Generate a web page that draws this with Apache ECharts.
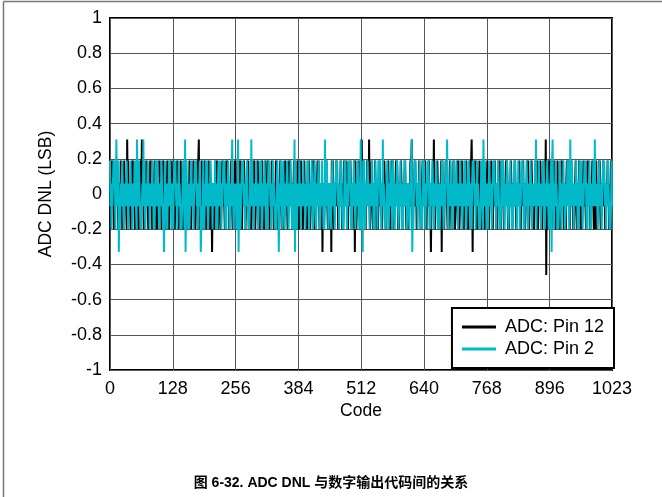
<!DOCTYPE html>
<html>
<head>
<meta charset="utf-8">
<script src="https://cdn.jsdelivr.net/npm/echarts@6/dist/echarts.min.js"></script>
<style>html,body{margin:0;padding:0;background:#fff}#c{width:662px;height:497px}</style>
</head>
<body>
<div id="c"></div>
<script>
const xTicks = [0,128,256,384,512,640,768,896,1023];
const yTicks = [-1,-0.8,-0.6,-0.4,-0.2,0,0.2,0.4,0.6,0.8,1];
const seriesNames = ['ADC: Pin 12','ADC: Pin 2'];
const titleText = '图 6-32. ADC DNL 与数字输出代码间的关系';

// ADC: Pin 12 DNL (LSB), codes 0..1023, 32 codes per row
const pin12 = [
-.2,-.07,.06,-.07,.19,-.07,.19,-.07,-.2,-.07,.06,-.07,.06,.19,.06,-.07,.06,-.2,.06,-.07,.06,-.07,.19,-.07,.06,-.2,.06,-.2,.06,.19,.06,-.07,
.06,-.07,-.2,.31,.06,.19,.06,-.07,.06,-.07,-.2,-.07,.06,.19,.06,.19,.06,-.07,.06,-.2,.06,-.07,.06,.19,.06,-.07,-.2,-.07,-.2,-.07,.19,-.07,
.06,.31,.19,-.07,.06,-.2,.06,-.07,.06,-.07,.19,-.07,.06,-.07,-.2,-.07,.06,-.07,.19,-.07,.19,-.07,-.2,-.07,.06,-.07,.06,.19,.06,-.07,-.2,-.07,
.06,-.2,.06,.19,.06,.19,.06,-.07,.06,-.2,.06,-.07,.19,-.07,.06,-.07,-.2,-.07,-.2,-.07,.06,.19,.06,-.07,-.2,-.07,.06,-.07,.19,-.07,.06,-.2,
.06,.19,.06,-.07,-.2,-.07,.06,-.07,.06,.19,.06,-.07,-.2,-.07,.06,-.07,.19,-.07,.06,-.2,.06,-.2,.06,-.07,.19,-.07,.19,-.07,.06,-.2,.06,-.07,
.06,-.07,.19,-.07,.06,-.2,.06,-.07,.06,-.07,.19,-.07,.06,-.07,-.2,-.07,.06,-.07,.19,-.07,.19,.31,-.2,-.07,.06,-.07,.06,.19,.06,-.07,-.2,-.07,
.06,.19,.06,-.07,-.2,-.07,.06,-.07,.06,.19,.06,-.07,-.2,-.07,.06,-.07,-.33,-.07,.06,-.2,.06,-.2,.06,-.07,.19,-.07,.19,-.07,.06,-.2,.06,-.07,
.06,-.07,-.2,-.07,.06,.19,.06,-.07,.06,-.07,-.2,-.07,.06,.19,.06,.19,.06,-.07,.06,-.2,.06,-.07,.06,.19,.06,-.07,-.2,-.07,-.2,-.07,.19,-.07,
.19,-.07,.06,-.2,.06,-.07,.06,.19,.06,.19,.06,-.2,.06,-.2,.06,-.07,.06,.19,.06,-.07,-.2,-.07,.06,-.07,.06,.19,.06,-.07,-.2,-.07,.06,-.07,
-.2,-.07,.06,-.07,.19,-.07,.19,-.07,-.2,-.07,.06,-.07,.06,.19,.06,-.07,.06,-.2,.06,-.07,.06,-.07,.19,-.07,.06,-.2,.06,-.2,.06,.19,.06,-.07,
.06,-.07,.19,-.07,.06,-.2,.06,-.07,.06,-.07,.19,-.07,.06,-.07,-.2,-.07,.06,-.07,.19,-.07,.19,-.07,-.2,-.07,.06,-.07,.06,.19,.06,-.07,-.2,-.07,
.06,-.07,-.2,-.07,.06,.19,.06,-.07,.06,-.07,-.2,-.07,.06,.19,.06,.19,.06,-.07,.06,-.2,.06,-.07,.06,.19,.06,-.07,-.2,-.07,-.2,-.07,.19,-.07,
.06,-.2,.06,.19,.06,.19,.06,-.07,.06,-.2,.06,-.07,.19,-.07,.06,-.07,-.2,-.07,-.2,-.07,.06,.19,.06,-.07,-.2,-.07,.06,-.07,.19,-.07,.06,-.2,
.19,-.07,.06,-.2,.06,-.07,.06,.19,.06,.19,.06,-.2,.06,-.2,.06,-.07,.06,-.33,.06,-.07,-.2,-.07,.06,-.07,.06,.19,.06,-.07,-.2,-.07,.06,-.07,
-.2,-.07,.06,-.33,.19,-.07,.19,-.07,-.2,-.07,.06,-.07,.06,.19,.06,-.07,.06,-.2,.06,-.07,.06,-.07,.19,-.07,.06,-.2,.06,-.2,.06,.19,.06,-.07,
.06,-.07,.19,-.07,.06,-.2,.06,-.07,.06,-.07,.19,-.07,.06,-.07,-.2,-.07,.06,-.07,.19,-.33,.19,-.07,-.2,-.07,.06,-.07,.06,.19,.06,-.07,-.2,-.07,
.06,.31,.06,.19,.06,.19,.06,-.07,.06,-.2,.06,-.07,.19,-.07,.06,-.07,.31,-.07,-.2,-.07,.06,.19,.06,-.07,-.2,-.07,.06,-.07,.19,-.07,.06,-.2,
.06,-.07,-.2,-.07,.06,.19,.06,-.07,.06,-.07,-.2,-.07,.06,.19,.06,.19,.06,-.07,.06,-.2,.06,-.07,.06,.19,.06,-.07,-.2,-.07,-.2,-.07,.19,-.07,
.19,-.07,.06,-.2,.06,-.07,.06,.19,.06,.19,.06,-.2,.06,-.2,.06,-.07,.06,.19,.06,-.07,-.2,-.07,.06,-.07,.06,.19,.06,-.07,-.2,-.07,.06,-.07,
-.2,-.07,.06,-.07,.19,-.07,.19,.31,-.2,-.07,.06,-.07,.06,.19,.06,-.07,.06,-.2,.06,-.07,.06,-.07,.19,-.07,.06,-.2,.06,-.2,.06,.19,.06,-.07,
.06,-.07,.19,-.07,.06,-.2,.06,-.07,.06,-.07,.19,-.07,.06,-.07,-.33,-.07,.06,-.07,.19,-.07,.31,-.07,-.2,-.07,.06,-.07,.06,.19,.06,-.07,-.2,-.07,
.06,-.2,.06,.19,-.33,.19,.06,-.07,.06,-.2,.06,-.07,.19,-.07,.06,-.07,-.2,-.07,-.2,-.07,.06,.19,.06,-.07,-.2,-.07,.06,-.07,.19,-.07,.06,-.2,
-.2,-.07,.06,-.07,.19,-.07,.19,-.07,-.2,-.07,.06,-.07,.06,.19,.06,-.07,.06,-.2,.06,-.07,.06,-.07,.19,-.07,.06,-.2,.06,-.2,.06,.19,.06,-.07,
.19,.31,.06,-.33,.06,-.07,.06,.19,.06,.19,.06,-.2,.06,-.2,.06,-.07,.06,.19,.06,-.07,-.2,-.07,.06,-.07,.06,.19,.06,-.07,-.2,-.07,.06,-.07,
.06,.19,.06,-.07,-.2,-.07,.06,-.07,.06,.19,.06,-.07,-.2,-.07,.06,-.07,.19,-.07,.06,-.2,.06,-.2,.06,-.07,.19,-.07,.19,-.07,.06,-.2,.06,-.07,
.19,-.07,.06,-.2,.06,-.07,.06,.19,.06,.19,.06,-.2,.06,-.2,.06,-.07,.06,.19,.06,-.07,-.2,-.07,.06,-.07,.06,.19,.06,-.07,-.2,-.07,.06,-.07,
.06,-.07,.19,-.07,.06,-.2,.06,-.07,.06,-.07,.19,-.07,.06,-.07,-.2,-.07,.06,-.07,.19,-.07,.19,-.07,-.2,-.07,.06,-.07,.06,.19,.06,-.07,-.2,-.07,
-.2,-.07,.06,-.07,.19,-.07,.19,-.07,-.2,-.07,.06,-.07,.06,.19,.06,-.07,.06,-.2,.06,-.07,.06,-.07,.19,-.07,.31,-.46,.06,-.2,.06,.19,.06,-.07,
.06,.19,.06,-.07,-.2,-.07,.06,-.07,.06,.19,.06,-.07,-.2,-.07,.06,-.07,.19,-.07,.06,-.2,.06,-.2,.06,-.07,.19,-.07,.19,-.07,.06,-.2,.06,-.07,
.06,-.2,.06,.19,.06,.19,.06,-.07,.06,-.2,.06,-.07,.19,-.07,.06,-.07,-.2,-.07,-.2,-.07,.06,.19,.06,-.07,-.2,-.07,.06,-.07,.19,-.07,.06,-.2,
.06,-.07,-.2,-.07,.06,.19,.06,-.07,.06,-.07,-.2,-.07,.06,.19,.06,.19,.06,-.07,.06,-.2,.06,-.07,.06,.19,.06,-.07,-.2,-.07,-.2,-.07,.19,-.07,
-.2,-.07,.06,-.07,.19,-.07,.19,-.07,-.2,-.07,.06,-.07,.06,.19,.06,-.07,.06,-.2,.06,-.07,.06,-.07,.19,-.07,.06,-.2,.06,-.2,.06,.19,.06,-.07
];

// ADC: Pin 2 DNL (LSB), codes 0..1023, 32 codes per row
const pin2 = [
.19,-.07,.06,-.2,.06,-.07,.06,.19,.06,.19,.06,-.2,.06,.31,.06,-.07,.06,.19,-.33,-.07,-.2,-.07,.06,-.07,.06,.19,.06,-.07,-.2,-.07,.06,-.07,
.06,-.07,.19,-.07,.06,-.2,.06,-.07,.06,-.07,.19,-.07,.06,-.07,-.2,-.07,.06,-.07,.19,-.07,.19,-.07,-.2,.31,.06,-.07,.06,.19,.06,-.07,-.2,-.07,
-.2,-.07,.06,-.07,.31,-.07,.19,-.07,-.2,-.07,.06,-.07,.06,.19,.06,-.07,.06,-.2,.06,-.07,.06,-.07,.19,-.07,.06,-.2,.06,-.2,.06,.19,.06,-.07,
.06,.19,.06,-.07,-.2,-.07,.06,-.07,.06,.19,.06,-.07,-.2,-.07,-.33,-.07,.19,-.07,.06,-.2,.06,-.2,.06,-.07,.19,-.07,.19,-.07,.06,-.2,.06,-.07,
.06,-.2,.06,.19,.06,.19,.06,-.07,.06,-.2,.06,-.07,.19,-.07,.06,-.07,-.2,-.07,-.2,-.07,.06,.19,.06,-.07,-.2,.31,-.33,-.07,.19,-.07,.06,-.2,
.06,-.07,-.2,-.07,.06,.19,.06,-.07,.06,-.07,-.2,-.07,.06,.19,.06,.19,.06,-.07,.06,-.2,.06,-.07,.06,.19,.06,-.33,-.2,-.07,-.2,-.07,.19,-.07,
-.2,-.07,.06,-.07,.19,-.07,.19,-.07,-.2,-.07,.06,-.07,.06,.19,.06,-.07,.06,-.2,.06,-.07,.06,-.07,.19,-.07,.06,-.2,.06,-.2,.06,.19,.06,-.07,
.19,-.07,.06,-.2,.06,-.07,.06,.19,.06,.19,.06,-.2,.06,-.2,.06,-.07,.06,.19,.06,-.07,-.2,-.07,.06,-.07,.06,.31,.06,-.07,-.2,-.07,.06,-.07,
.06,-.07,-.2,-.07,.06,.31,-.33,-.07,.06,-.07,-.2,-.07,.06,.19,.06,.19,.06,-.07,.06,-.2,.06,-.07,.06,.19,.06,-.07,-.2,-.07,-.2,-.07,.19,-.07,
.31,-.07,.19,-.07,.06,-.2,.06,-.07,.06,-.07,.19,-.07,.06,-.07,-.2,-.07,.06,-.07,.19,-.07,.19,-.07,-.2,-.07,.06,-.07,.06,.19,.06,-.07,-.2,-.07,
.06,-.2,.06,.19,.06,.19,.06,-.07,.06,-.2,.06,-.07,.19,-.07,.06,-.07,-.2,-.07,-.2,-.07,.06,.19,.06,-.07,-.33,-.07,.06,-.07,.19,-.07,.06,-.2,
.06,.19,.06,-.07,-.2,-.07,.06,-.07,.06,.19,.06,-.07,-.2,-.07,.06,-.07,.19,-.07,.06,-.2,.06,-.2,.06,-.07,.31,-.33,.19,-.07,.06,-.2,.06,-.07,
.06,-.07,.19,-.07,.06,-.2,.06,-.07,.06,-.07,.19,-.07,.06,-.07,-.2,-.07,.06,-.07,.19,-.07,.19,-.07,-.2,-.07,.06,-.07,.06,.19,.06,-.07,-.2,-.07,
.06,.19,.06,-.07,-.2,-.07,.06,-.07,.06,.19,.06,-.07,-.2,-.07,.06,-.07,.19,-.07,.06,-.2,.06,-.2,.31,-.07,.19,-.07,.19,-.07,.06,-.2,.06,-.07,
.06,-.07,-.2,-.07,.06,.19,.06,-.07,.06,-.07,-.2,-.07,.06,.19,.06,.19,.06,-.07,.06,-.2,.06,-.07,.06,.19,.06,-.07,-.2,-.07,-.2,-.07,.19,-.07,
.19,-.07,.06,-.2,.06,-.07,.06,.19,.06,.19,.06,-.2,.06,-.2,.06,-.07,.06,.19,.06,-.07,-.2,-.07,.06,-.07,.06,.19,.06,-.07,-.2,-.07,.06,.31,
-.2,-.07,.06,-.33,.19,-.07,.19,-.07,-.2,-.07,.06,-.07,.06,.19,.06,-.07,.06,-.2,.06,-.07,.06,-.07,.19,-.07,.06,-.2,.06,-.2,.06,.19,.06,-.07,
.06,-.2,.06,.19,.06,.19,.06,-.07,.06,-.2,.06,-.07,.31,-.07,.06,-.07,-.2,-.07,-.2,-.07,.06,.19,.06,-.07,-.2,-.07,.06,-.07,.19,-.07,.06,-.2,
.06,.19,.06,-.07,-.2,-.07,.06,-.07,.06,.19,.06,-.07,-.2,-.07,.06,-.07,.19,-.07,.06,-.2,.06,-.2,.06,-.07,.19,-.07,.19,-.07,.06,-.2,.06,-.07,
.06,-.07,-.2,-.07,.06,.19,.06,.31,-.33,-.07,-.2,-.07,.06,.19,.06,.19,.06,-.07,.06,-.2,.06,-.07,.06,.19,.06,-.07,-.2,-.07,-.2,-.07,.19,-.07,
.19,-.07,.06,-.2,.06,-.07,.06,.19,.06,.19,.06,-.2,.06,-.2,.06,-.07,.06,.19,.06,-.07,-.2,-.07,.06,-.07,.06,.19,.06,-.07,-.2,-.07,.06,-.07,
-.2,-.07,.06,-.07,.19,-.07,.19,-.07,-.2,-.07,.06,-.07,.06,.19,.06,.31,.06,-.2,.06,-.07,.06,-.07,.19,-.07,.06,-.2,.06,-.2,.06,.19,.06,-.07,
.06,-.07,.19,-.07,.06,-.2,.06,-.07,.06,-.07,.19,-.07,.06,-.07,-.2,-.07,.06,-.07,.19,-.07,.19,-.07,-.2,-.07,.06,-.07,.06,.19,.06,-.07,-.2,-.07,
.06,-.2,.06,.19,.06,.19,.06,-.07,.06,-.2,.06,-.07,.19,-.07,.06,-.07,-.2,-.07,-.2,-.07,.06,.19,.06,-.07,-.2,.31,.06,-.07,.19,-.07,.06,-.2,
.06,-.07,-.2,-.07,.06,.19,.06,-.07,.06,-.07,-.2,-.07,.06,.19,.06,.19,.06,-.07,.06,-.2,.06,-.07,.06,.19,.06,-.07,-.2,-.07,-.2,-.07,.19,-.07,
.06,.19,.06,-.07,-.2,-.07,.06,-.07,.06,.19,.06,-.07,-.2,-.07,.06,-.07,.19,-.07,.06,-.2,.06,-.2,.06,-.07,.19,-.07,.19,-.07,.06,-.2,.06,-.07,
.19,-.07,.06,-.2,.06,-.07,.06,.19,.06,.19,.06,-.2,.06,-.2,.06,-.07,.06,.19,.06,-.07,-.2,-.07,.06,-.07,.06,.19,.06,-.07,-.2,-.07,.06,-.07,
.06,-.07,.19,-.07,.31,-.2,.06,-.07,.06,-.07,.19,-.07,.06,-.07,-.2,-.07,.06,-.07,.19,-.07,.19,-.07,-.2,-.07,.06,-.07,.06,.19,.06,-.07,-.2,-.07,
.06,-.2,.06,.19,-.33,.19,.31,-.07,.06,-.2,.06,-.07,.19,-.07,.06,-.07,-.2,-.07,-.2,-.07,.06,.19,.06,-.07,-.2,-.07,.06,-.07,.19,-.07,.06,-.2,
-.2,-.07,.06,-.07,.19,-.07,.19,-.07,-.2,-.07,.31,-.07,.06,.19,.06,-.07,.06,-.2,.06,-.07,.06,-.07,.19,-.07,.06,-.2,.06,-.2,.06,.19,.06,-.07,
.19,-.07,.06,-.2,.06,-.07,.06,.19,.06,.19,.06,-.2,.06,-.2,.06,-.07,.06,.19,.06,-.07,-.2,-.07,.06,-.07,.06,.19,.06,-.07,.31,-.07,.06,-.07,
.06,-.07,-.2,-.07,.06,.19,.06,-.07,.06,-.07,-.2,-.07,.06,.19,.06,.19,.06,-.07,.06,-.2,.06,-.07,.06,.19,.06,-.07,-.2,-.07,-.2,-.07,.19,-.07
];

const FONT = '"Liberation Sans", Arial, "Noto Sans CJK SC", sans-serif';
const chart = echarts.init(document.getElementById('c'), null, {renderer: 'canvas'});
chart.setOption({
  animation: false,
  backgroundColor: '#fff',
  title: {
    text: titleText,
    left: 'center',
    top: 471,
    textStyle: {fontFamily: FONT, fontSize: 14, fontWeight: 'bold', color: '#000'}
  },
  graphic: [
    {type: 'line', shape: {x1: 3.5, y1: 1.5, x2: 662, y2: 1.5}, style: {stroke: '#777', lineWidth: 1.5}},
    {type: 'line', shape: {x1: 3.5, y1: 1.5, x2: 3.5, y2: 497}, style: {stroke: '#777', lineWidth: 1.5}}
  ],
  grid: {left: 110, right: 50, top: 18, bottom: 127, show: true, borderColor: '#000', borderWidth: 2, backgroundColor: 'transparent'},
  legend: {
    orient: 'vertical',
    right: 48, bottom: 129,
    backgroundColor: '#fff',
    borderColor: '#000', borderWidth: 2,
    padding: [10, 10, 10, 10],
    icon: 'rect',
    itemWidth: 34, itemHeight: 3, itemGap: 4,
    textStyle: {fontFamily: FONT, fontSize: 18, color: '#000', padding: [0, 0, 0, 4]},
    data: seriesNames
  },
  xAxis: {
    type: 'value', min: 0, max: 1023,
    name: 'Code', nameLocation: 'middle', nameGap: 29,
    nameTextStyle: {fontFamily: FONT, fontSize: 17.5, color: '#000'},
    axisLine: {show: false},
    axisTick: {show: false, customValues: xTicks},
    axisLabel: {customValues: xTicks, fontFamily: FONT, fontSize: 18, color: '#000', margin: 10,
      formatter: v => String(v)},
    splitLine: {show: true, lineStyle: {color: '#555', width: 1}}
  },
  yAxis: {
    type: 'value', min: -1, max: 1, interval: 0.2,
    name: 'ADC DNL (LSB)', nameLocation: 'middle', nameGap: 55,
    nameTextStyle: {fontFamily: FONT, fontSize: 17.5, color: '#000'},
    axisLine: {show: false},
    axisTick: {show: false},
    axisLabel: {fontFamily: FONT, fontSize: 18, color: '#000', margin: 8,
      formatter: v => String(+v.toFixed(1))},
    splitLine: {show: true, lineStyle: {color: '#555', width: 1}}
  },
  series: [
    {name: seriesNames[0], type: 'line', symbol: 'none', sampling: null,
     lineStyle: {color: '#000', width: 2}, itemStyle: {color: '#000'},
     data: pin12.map((v, i) => [i, v]), z: 3},
    {name: seriesNames[1], type: 'line', symbol: 'none', sampling: null,
     lineStyle: {color: '#00b9c9', width: 2}, itemStyle: {color: '#00b9c9'},
     data: pin2.map((v, i) => [i, v]), z: 4}
  ]
});
</script>
</body>
</html>
